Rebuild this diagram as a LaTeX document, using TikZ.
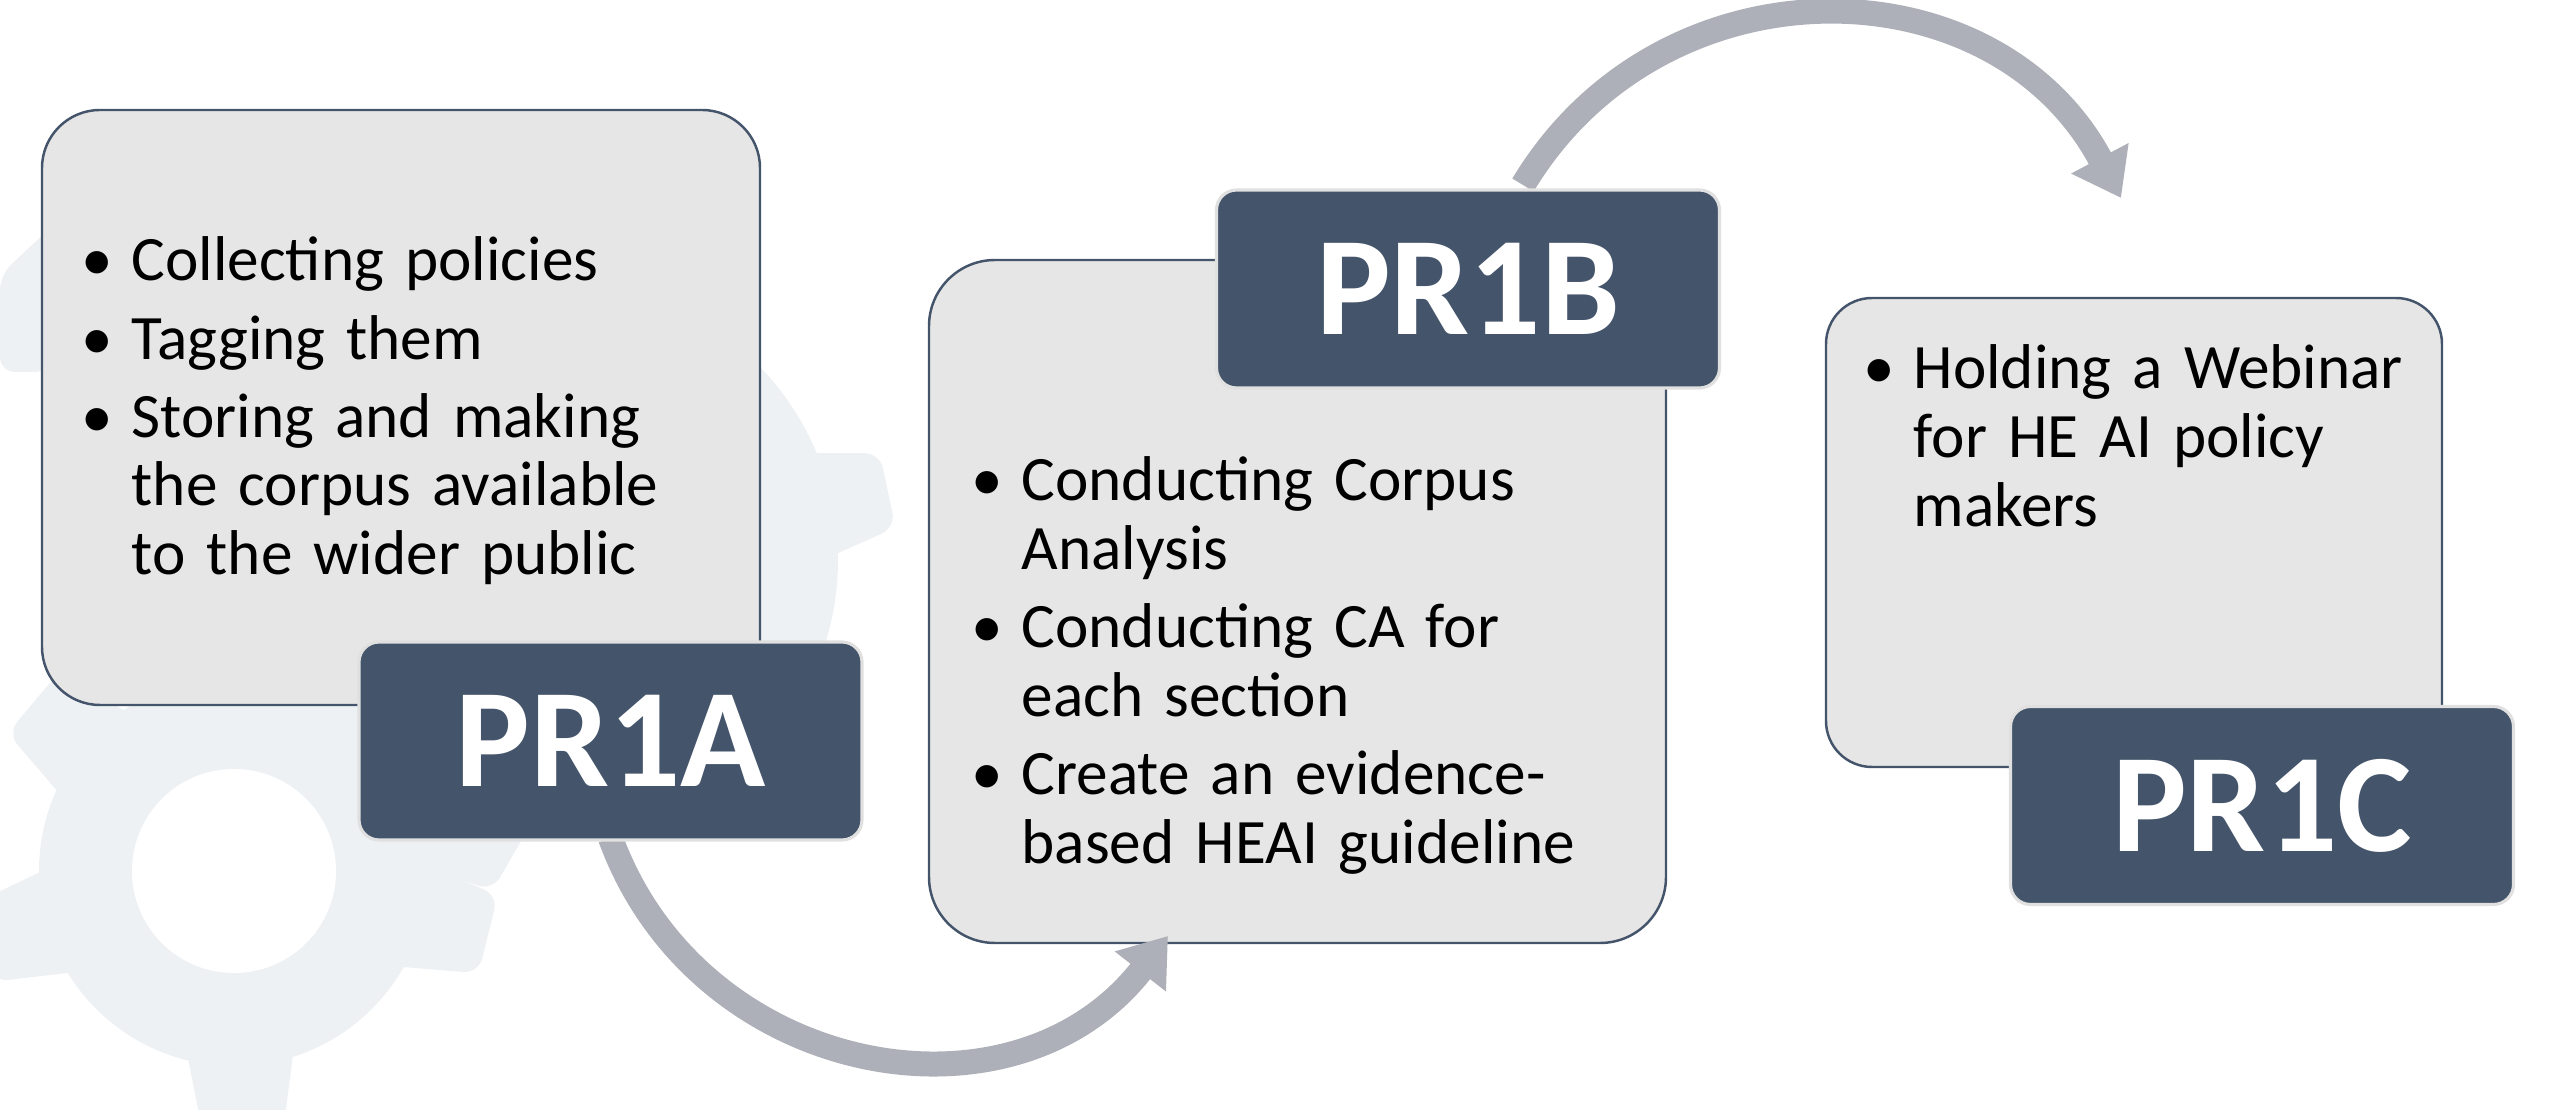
\documentclass[tikz,border=0pt]{standalone}
\usepackage{fontspec}
\setmainfont{Carlito}
\usetikzlibrary{arrows.meta}

\definecolor{slate}{HTML}{44546A}
\definecolor{panel}{HTML}{E7E6E6}
\definecolor{flowgray}{HTML}{ADB0B8}
\definecolor{cog}{HTML}{EEF1F4}

\newcommand{\bul}{\leavevmode\llap{\makebox[6.8mm][c]{•}}}

\tikzset{
  panelbox/.style={draw=slate, line width=0.7pt, fill=panel, rounded corners=#1},
  tagbox/.style={draw=black!12, line width=0.9pt, fill=slate, rounded corners=2mm,
    minimum width=50.3mm, minimum height=19.8mm, inner sep=0pt,
    text=white, font=\fontsize{40}{44}\selectfont\bfseries},
  itemtext/.style={anchor=base west, inner sep=0pt, text width=70mm, align=left,
    font=\fontsize{18}{19.6}\selectfont},
  flow/.style={draw=flowgray, line width=2.5mm,
    -{Triangle[length=4.5mm, width=6.2mm]}},
  tooth/.style={fill=cog, rounded corners=1.5mm}
}

\begin{document}
\begin{tikzpicture}[x=0.1mm, y=0.1mm]
  \useasboundingbox (0,0) rectangle (2560,1110);

  % background cogs
  \fill[tooth] (0,738) -- (0,835) -- (50,882) -- (50,738) -- cycle;
  \fill[cog] (560,550) circle (278);
  \foreach \a in {12,72,...,312}
    \fill[tooth, rotate around={\a:(560,550)}]
      (815,495) -- (895,512) -- (895,588) -- (815,605) -- cycle;
  \fill[cog] (234,239) circle (195);
  \foreach \a in {60,140,196,272,346}
    \fill[tooth, rotate around={\a:(234,239)}]
      (405,184) -- (496,199) -- (496,279) -- (405,294) -- cycle;
  \fill[white] (234,239) circle (102);

  % panels
  \node[panelbox=5.8mm, minimum width=71.8mm, minimum height=59.5mm] (boxA) at (401,702.5) {};
  \node[panelbox=6.6mm, minimum width=73.7mm, minimum height=68.3mm] (boxB) at (1297.5,508.5) {};
  \node[panelbox=4.6mm, minimum width=61.6mm, minimum height=46.9mm] (boxC) at (2134,577.5) {};

  \node[itemtext] (listA) at (131,829)
    {\bul Collecting policies\\[2.6pt]\bul Tagging them\\[2.6pt]\bul Storing and making\\the corpus available\\to the wider public};
  \node[itemtext] (listB) at (1021,609)
    {\bul Conducting Corpus\\Analysis\\[2.6pt]\bul Conducting CA for\\each section\\[2.6pt]\bul Create an evidence-\\based HEAI guideline};
  \node[itemtext] (listC) at (1913,721)
    {\bul Holding a Webinar\\for HE AI policy\\makers};

  % arrows
  \coordinate (tipB) at (1168,174);
  \coordinate (tipC) at (2121,912);
  \draw[flow] (610.5,272) to[out=-70, in=232, looseness=1.15] (tipB);
  \draw[flow] (1523,925) to[out=59, in=118, looseness=1.15] (tipC);

  % tags
  \node[tagbox] (tagA) at (610.5,369) {PR1A};
  \node[tagbox] (tagB) at (1468,821) {PR1B};
  \node[tagbox] (tagC) at (2262,304.5) {PR1C};
\end{tikzpicture}
\end{document}
